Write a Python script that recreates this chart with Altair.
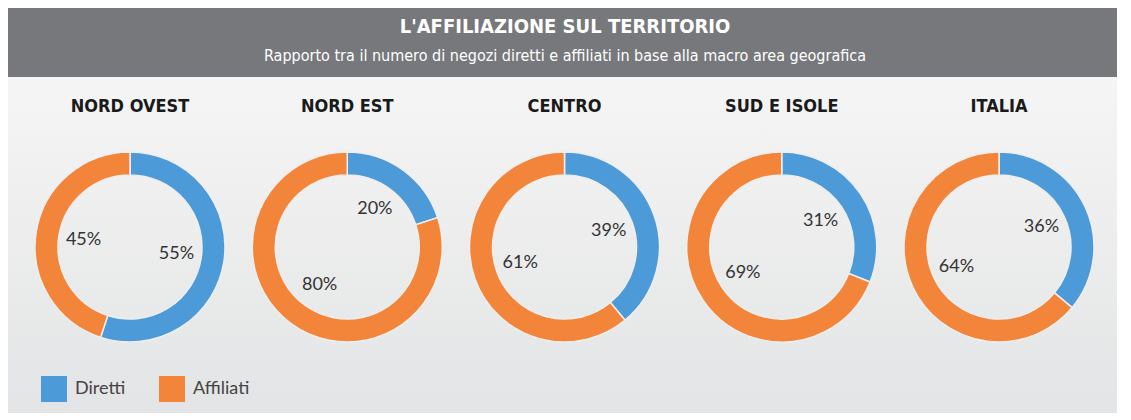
import altair as alt
import pandas as pd

# ---- data ----
regions = ["NORD OVEST", "NORD EST", "CENTRO", "SUD E ISOLE", "ITALIA"]
diretti = [55, 20, 39, 31, 36]
affiliati = [45, 80, 61, 69, 64]
tipi = ["Diretti", "Affiliati"]
title_text = "L'AFFILIAZIONE SUL TERRITORIO"
subtitle_text = "Rapporto tra il numero di negozi diretti e affiliati in base alla macro area geografica"

rows = []
for r, d, a in zip(regions, diretti, affiliati):
    rows.append({"region": r, "tipo": "Diretti", "pct": d, "ord": 0})
    rows.append({"region": r, "tipo": "Affiliati", "pct": a, "ord": 1})
df = pd.DataFrame(rows)
titles_df = pd.DataFrame({"region": regions})

W, H = 1109, 405
BLUE, ORANGE = "#4c9ad8", "#f28539"
NARROW = "Liberation Sans Narrow, DejaVu Sans Condensed, sans-serif"

xs = alt.Scale(type="point", domain=regions, range=[122, 991], padding=0)
ts = alt.Scale(domain=[0, 100])

one = alt.Data(values=[{"a": 1}])

bg = alt.Chart(one).mark_rect(
    fill=alt.Gradient(
        gradient="linear",
        stops=[alt.GradientStop(color="#f5f5f5", offset=0),
               alt.GradientStop(color="#e3e4e5", offset=1)],
        x1=0, x2=0, y1=0, y2=1,
    )
).encode(x=alt.value(0), x2=alt.value(W), y=alt.value(69), y2=alt.value(H))

header = alt.Chart(one).mark_rect(fill="#77787b").encode(
    x=alt.value(0), x2=alt.value(W), y=alt.value(0), y2=alt.value(69)
)

title = alt.Chart(one).mark_text(
    font=NARROW, fontSize=20, fontWeight="bold", color="white", baseline="middle", align="center"
).encode(x=alt.value(557), y=alt.value(19), text=alt.value(title_text))

subtitle = alt.Chart(one).mark_text(
    font=NARROW, fontSize=16, color="white", baseline="middle", align="center"
).encode(x=alt.value(557), y=alt.value(48), text=alt.value(subtitle_text))

base = alt.Chart(df).transform_stack(
    stack="pct", groupby=["region"], as_=["s0", "s1"], sort=[alt.SortField("ord")]
).transform_calculate(mid="(datum.s0 + datum.s1) / 2", label="datum.pct + '%'")

arcs = base.mark_arc(outerRadius=95, innerRadius=72, stroke="#eeeeee", strokeWidth=1.5).encode(
    x=alt.X("region:N", scale=xs, axis=None),
    y=alt.value(239),
    theta=alt.Theta("s0:Q", scale=ts),
    theta2="s1:Q",
    color=alt.Color(
        "tipo:N",
        scale=alt.Scale(domain=tipi, range=[BLUE, ORANGE]),
        legend=alt.Legend(
            title=None, orient="none", legendX=33, legendY=368, direction="horizontal",
            symbolType="square", symbolSize=676, symbolStrokeWidth=0, symbolOpacity=1,
            labelFontSize=18, labelFont="Lato", labelColor="#444444", labelOffset=8,
            columnPadding=33, padding=0,
        ),
    ),
)

labels = base.mark_text(radius=47, fontSize=18, font="Lato", color="#333333").encode(
    x=alt.X("region:N", scale=xs, axis=None),
    y=alt.value(239),
    theta=alt.Theta("mid:Q", scale=ts),
    text="label:N",
)

region_titles = alt.Chart(titles_df).mark_text(
    font=NARROW, fontSize=18, fontWeight="bold", color="#1a1a1a", baseline="middle"
).encode(
    x=alt.X("region:N", scale=xs, axis=None),
    y=alt.value(99),
    text="region:N",
)

chart = alt.layer(bg, header, title, subtitle, arcs, labels, region_titles).properties(
    width=W, height=H, padding=0, autosize="none", background="white"
).configure_view(stroke=None)

chart.save("out.html", embed_options={"renderer": "svg", "actions": False})
